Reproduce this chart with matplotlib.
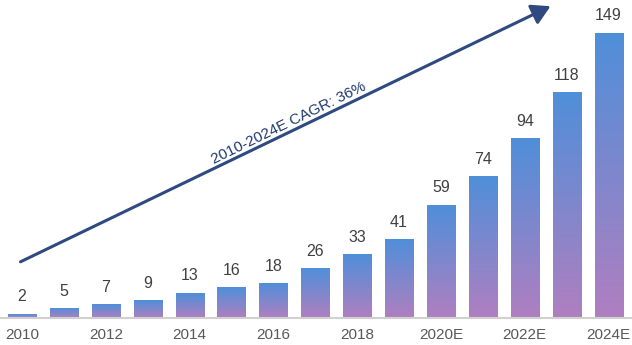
import matplotlib
matplotlib.use("Agg")
import matplotlib.pyplot as plt
import numpy as np
from matplotlib.colors import LinearSegmentedColormap

years = ["2010", "2011", "2012", "2013", "2014", "2015", "2016", "2017",
         "2018", "2019", "2020E", "2021E", "2022E", "2023E", "2024E"]
values = [2, 5, 7, 9, 13, 16, 18, 26, 33, 41, 59, 74, 94, 118, 149]
shown_ticks = ["2010", "2012", "2014", "2016", "2018", "2020E", "2022E", "2024E"]
cagr_text = "2010-2024E CAGR: 36%"

plt.rcParams["font.family"] = ["Liberation Sans", "DejaVu Sans"]

fig = plt.figure(figsize=(6.32, 3.45), dpi=100)
ax = fig.add_axes([0, 27 / 345, 1, 306 / 345])

x = np.arange(len(values))
bars = ax.bar(x, values, width=0.67, color="none", edgecolor="none", zorder=2)

cmap = LinearSegmentedColormap.from_list("barfade", ["#b07fc0", "#4f8fd9"])
grad = np.linspace(0, 1, 256).reshape(-1, 1)
for b in bars:
    x0, w, h = b.get_x(), b.get_width(), b.get_height()
    ax.imshow(grad, cmap=cmap, origin="lower", aspect="auto",
              extent=(x0, x0 + w, 0, h), zorder=2, interpolation="bilinear")
    ax.annotate(f"{h:g}", (x0 + w / 2, h), xytext=(0, 7), textcoords="offset points",
                ha="center", va="bottom", fontsize=11.5, color="#404040")

ax.set_xlim(-0.525, 14.56)
ax.set_ylim(0, 160)

ax.set_xticks([i for i, y in enumerate(years) if y in shown_ticks])
ax.set_xticklabels(shown_ticks, fontsize=11, color="#595959")
ax.tick_params(axis="x", length=0, pad=7.5)
ax.set_yticks([])
for side in ("left", "right", "top"):
    ax.spines[side].set_visible(False)
ax.spines["bottom"].set_color("#d0d0d0")
ax.spines["bottom"].set_linewidth(1.5)

# growth arrow across the chart
fig.patches.append(matplotlib.patches.FancyArrowPatch(
    (18 / 632, 1 - 263 / 345), (553 / 632, 1 - 5 / 345),
    transform=fig.transFigure, arrowstyle="-|>,head_length=7,head_width=4",
    mutation_scale=1.6, color="#2e4a80", linewidth=2.2, zorder=5))
fig.text(289 / 632, 1 - 123 / 345, cagr_text, rotation=26, ha="center", va="center",
         fontsize=11, color="#1f3a6e", rotation_mode="anchor")

fig.savefig("out.png", dpi=100)
